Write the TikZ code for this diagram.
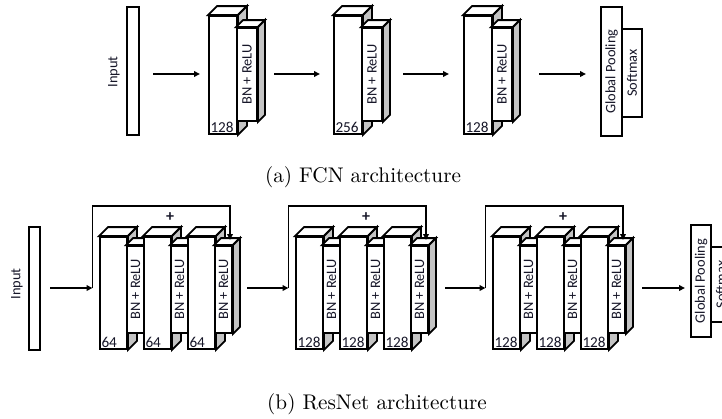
\documentclass[tikz,border=0pt]{standalone}
\usepackage{fontspec}
\newfontfamily\calib{Carlito}
\usetikzlibrary{arrows.meta,fit}
\definecolor{sidegray}{RGB}{196,196,196}
\definecolor{txt}{RGB}{22,22,40}
\tikzset{
  face/.style={draw, line width=0.9pt, fill=white, line join=miter},
  boxnode/.style={draw, line width=0.9pt, fill=white, inner sep=0pt},
  lbl/.style={font=\calib\fontsize{7.2}{8}\selectfont, text=txt, inner sep=0pt},
  num/.style={font=\calib\fontsize{7.6}{8}\selectfont, text=txt, inner sep=0pt, anchor=south west},
  arr/.style={line width=0.8pt, -{Triangle[length=3pt,width=2.8pt]}},
  captxt/.style={font=\fontsize{10.6}{12}\selectfont, inner sep=0pt}
}
% #1 name, #2 x1, #3 y1, #4 x2, #5 y2, #6 depth
\newcommand{\cubeboxdraw}[6]{%
  \node[boxnode, fit={(#2,#3) (#4,#5)}] (#1) {};
  \draw[face] (#1.north west) -- ++(#6,-#6) -- ([shift={(#6,-#6)}]#1.north east) -- (#1.north east) -- cycle;
  \draw[face, fill=sidegray] (#1.north east) -- ++(#6,-#6) -- ([shift={(#6,-#6)}]#1.south east) -- (#1.south east) -- cycle;
}
% FCN block: #1 id, #2 x, #3 number
\newcommand{\fcnblock}[3]{%
  \cubeboxdraw{#1c}{#2}{16}{#2+28}{134}{9}
  \cubeboxdraw{#1b}{#2+28}{28}{#2+48}{121}{7}
  \node[lbl, rotate=90] (#1t) at (#1b.center) {BN + ReLU};
  \node[num] (#1n) at ([shift={(2,-2)}]#1c.south west) {#3};
}
% ResNet unit: #1 id, #2 x, #3 number
\newcommand{\resunit}[3]{%
  \cubeboxdraw{#1c}{#2}{237}{#2+27}{349}{9}
  \cubeboxdraw{#1b}{#2+27}{246}{#2+44}{333}{7}
  \node[lbl, rotate=90] (#1t) at (#1b.center) {BN + ReLU};
  \node[num] (#1n) at ([shift={(2,-2)}]#1c.south west) {#3};
}
% ResNet block: #1 id, #2 x, #3 number
\newcommand{\resblock}[3]{%
  \resunit{#1a}{#2}{#3}
  \resunit{#1b}{#2+44}{#3}
  \resunit{#1c}{#2+88}{#3}
  \coordinate (#1s) at (#2-7.5,288);
  \coordinate (#1u) at (#2-7.5,206);
  \coordinate (#1v) at (#2+130,206);
  \coordinate (#1e) at (#2+130,240);
  \draw[arr] (#1s) -- (#1u) -- (#1v) -- (#1e);
  \node[lbl, font=\calib\fontsize{8}{8}\selectfont\bfseries] (#1p) at (#2+70,217) {+};
}
\begin{document}
\begin{tikzpicture}[x=0.5pt, y=-0.5pt]
\useasboundingbox (0,0) rectangle (722,418);
\clip (0,0) rectangle (722,418);

% ---------- (a) FCN ----------
\node[boxnode, fit={(127,7) (139,135)}] (fin) {};
\node[lbl, rotate=90] (finl) at (114,72) {Input};

\fcnblock{f1}{209}{128}
\fcnblock{f2}{334}{256}
\fcnblock{f3}{464}{128}

\node[boxnode, fit={(601,7) (622,136)}] (fgp) {};
\node[boxnode, fit={(622,29) (642,117)}] (fsm) {};
\node[lbl, rotate=90] (fgpl) at (fgp.center) {Global Pooling};
\node[lbl, rotate=90] (fsml) at (fsm.center) {Softmax};

\coordinate (fa1s) at (153,74); \coordinate (fa1e) at (200,74);
\coordinate (fa2s) at (274,74); \coordinate (fa2e) at (320,74);
\coordinate (fa3s) at (403,74); \coordinate (fa3e) at (449,74);
\coordinate (fa4s) at (539,74); \coordinate (fa4e) at (586,74);
\draw[arr] (fa1s) -- (fa1e);
\draw[arr] (fa2s) -- (fa2e);
\draw[arr] (fa3s) -- (fa3e);
\draw[arr] (fa4s) -- (fa4e);

\node[captxt] (capa) at (363,177) {(a) FCN architecture};

% ---------- (b) ResNet ----------
\node[boxnode, fit={(29,227) (40,350)}] (rin) {};
\node[lbl, rotate=90] (rinl) at (17,284) {Input};

\resblock{r1}{100}{64}
\resblock{r2}{296}{128}
\resblock{r3}{493}{128}

\node[boxnode, fit={(691,225) (711,337)}] (rgp) {};
\node[boxnode, fit={(711,247) (731,322)}] (rsm) {};
\node[lbl, rotate=90] (rgpl) at (rgp.center) {Global Pooling};
\node[lbl, rotate=90] (rsml) at (rsm.center) {Softmax};

\coordinate (ra0) at (50,288);
\coordinate (ra1) at (247,288);
\coordinate (ra2) at (445,288);
\coordinate (ra3) at (642,288);
\coordinate (ra3e) at (685,288);
\draw[arr] (ra0) -- (r1s);
\draw[arr] (ra1) -- (r2s);
\draw[arr] (ra2) -- (r3s);
\draw[arr] (ra3) -- (ra3e);

\node[captxt] (capb) at (377,404) {(b) ResNet architecture};
\end{tikzpicture}
\end{document}
